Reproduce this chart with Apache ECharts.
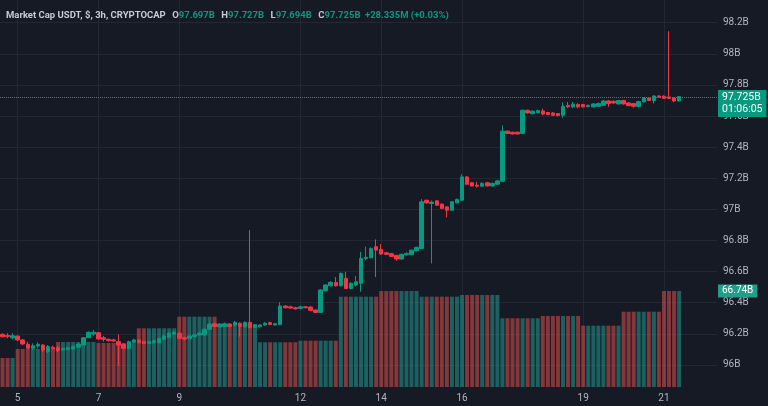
<!DOCTYPE html>
<html>
<head>
<meta charset="utf-8">
<script src="https://cdn.jsdelivr.net/npm/echarts@6/dist/echarts.min.js"></script>
<style>
html, body { margin: 0; padding: 0; background: #161a25; }
#chart { width: 768px; height: 406px; }
</style>
</head>
<body>
<div id="chart"></div>
<script>
// 3h candles, [open, close, low, high] in billions, first bar = day 4 15:00
const candles = [
  [96.197,96.182,96.177,96.204],[96.189,96.184,96.172,96.204],[96.175,96.188,96.165,96.204],
  [96.186,96.161,96.154,96.189],[96.161,96.135,96.128,96.167],[96.133,96.107,96.103,96.150],
  [96.107,96.124,96.096,96.139],[96.122,96.133,96.107,96.146],[96.128,96.096,96.085,96.135],
  [96.085,96.118,96.077,96.128],[96.114,96.105,96.099,96.124],[96.111,96.092,96.083,96.122],
  [96.098,96.105,96.092,96.113],[96.101,96.109,96.094,96.118],[96.103,96.118,96.099,96.124],
  [96.114,96.133,96.109,96.139],[96.128,96.175,96.124,96.180],[96.175,96.210,96.173,96.216],
  [96.199,96.210,96.188,96.225],[96.207,96.167,96.163,96.212],[96.175,96.165,96.150,96.186],
  [96.165,96.156,96.150,96.169],[96.161,96.154,96.148,96.169],[96.150,96.128,95.994,96.197],
  [96.133,96.107,96.101,96.139],[96.107,96.150,96.101,96.156],[96.146,96.161,96.141,96.169],
  [96.161,96.143,96.139,96.167],[96.150,96.139,96.133,96.156],[96.139,96.150,96.133,96.156],
  [96.143,96.156,96.139,96.161],[96.143,96.171,96.139,96.177],[96.165,96.186,96.161,96.193],
  [96.178,96.204,96.173,96.210],[96.199,96.210,96.193,96.218],[96.204,96.171,96.167,96.212],
  [96.175,96.167,96.161,96.182],[96.171,96.186,96.167,96.193],[96.182,96.193,96.178,96.199],
  [96.193,96.204,96.188,96.210],[96.193,96.229,96.188,96.235],[96.229,96.261,96.225,96.271],
  [96.265,96.248,96.243,96.271],[96.246,96.263,96.241,96.269],[96.248,96.265,96.243,96.273],
  [96.263,96.248,96.243,96.269],[96.257,96.274,96.250,96.283],[96.268,96.248,96.182,96.274],
  [96.246,96.274,96.241,96.280],[96.274,96.240,96.235,96.867],[96.242,96.257,96.238,96.263],
  [96.246,96.257,96.240,96.263],[96.257,96.268,96.252,96.276],[96.272,96.261,96.255,96.278],
  [96.257,96.265,96.252,96.271],[96.261,96.379,96.257,96.403],[96.379,96.368,96.364,96.385],
  [96.374,96.366,96.361,96.381],[96.368,96.361,96.355,96.374],[96.364,96.374,96.357,96.381],
  [96.374,96.368,96.364,96.379],[96.372,96.351,96.348,96.379],[96.353,96.338,96.334,96.357],
  [96.338,96.482,96.334,96.488],[96.477,96.514,96.473,96.520],[96.509,96.531,96.505,96.539],
  [96.531,96.509,96.503,96.565],[96.509,96.589,96.505,96.594],[96.557,96.492,96.488,96.599],
  [96.492,96.525,96.486,96.531],[96.514,96.535,96.503,96.571],[96.525,96.685,96.471,96.727],
  [96.685,96.692,96.674,96.760],[96.689,96.749,96.685,96.756],[96.760,96.738,96.565,96.807],
  [96.743,96.713,96.708,96.777],[96.721,96.711,96.706,96.727],[96.715,96.698,96.694,96.721],
  [96.704,96.681,96.670,96.708],[96.681,96.711,96.677,96.715],[96.708,96.717,96.704,96.724],
  [96.711,96.738,96.706,96.743],[96.734,96.756,96.730,96.760],[96.749,97.049,96.745,97.066],
  [97.059,97.042,97.036,97.062],[97.038,97.047,96.653,97.057],[97.055,97.027,97.023,97.059],
  [97.034,97.006,97.002,97.038],[97.016,96.995,96.948,97.021],[96.995,97.049,96.991,97.053],
  [97.042,97.064,97.038,97.070],[97.059,97.209,97.055,97.226],[97.209,97.162,97.158,97.214],
  [97.171,97.151,97.147,97.177],[97.156,97.149,97.141,97.177],[97.149,97.167,97.145,97.175],
  [97.171,97.151,97.147,97.177],[97.151,97.167,97.145,97.173],[97.162,97.183,97.158,97.190],
  [97.181,97.503,97.177,97.539],[97.503,97.488,97.484,97.507],[97.496,97.485,97.481,97.500],
  [97.496,97.485,97.481,97.500],[97.488,97.637,97.484,97.641],[97.637,97.620,97.615,97.641],
  [97.615,97.631,97.611,97.637],[97.622,97.635,97.618,97.641],[97.633,97.613,97.605,97.648],
  [97.623,97.610,97.605,97.626],[97.620,97.605,97.600,97.626],[97.616,97.603,97.599,97.620],
  [97.605,97.663,97.588,97.687],[97.669,97.659,97.652,97.691],[97.659,97.676,97.650,97.691],
  [97.674,97.659,97.650,97.683],[97.674,97.659,97.654,97.678],[97.661,97.669,97.656,97.674],
  [97.659,97.678,97.654,97.683],[97.663,97.680,97.659,97.687],[97.669,97.697,97.665,97.702],
  [97.697,97.680,97.659,97.702],[97.695,97.684,97.680,97.700],[97.678,97.700,97.674,97.704],
  [97.700,97.678,97.674,97.704],[97.684,97.667,97.663,97.689],[97.680,97.663,97.654,97.684],
  [97.661,97.693,97.656,97.697],[97.691,97.716,97.687,97.721],[97.716,97.700,97.697,97.721],
  [97.700,97.729,97.680,97.734],[97.729,97.721,97.716,97.734],[97.727,97.714,97.710,97.734],
  [97.723,97.714,97.710,98.145],[97.716,97.697,97.689,97.721],[97.697,97.725,97.694,97.727]
]

// daily volume (B), days 4..21, shown on every 3h bar of that day
const volDays = [4,5,6,7,8,9,10,11,12,13,14,15,16,17,18,19,20,21]
const dailyVolume = [20.16,26.42,31.28,30.59,40.81,48.87,43.80,31.08,32.19,62.78,66.74,62.78,63.96,47.76,49.36,42.62,52.35,66.74]

const dayTicks = [5, 7, 9, 12, 14, 16, 19, 21]
const headerText = 'Market Cap USDT, $, 3h, CRYPTOCAP'
const changeText = '+28.335M (+0.03%)'
const countdown = '01:06:05'

const UP = '#089981'
const DOWN = '#f23645'
const GRID = '#232734'
const TXT = '#b2b5be'

// categories: day/hour for each 3h slot, plus empty slots on the right
const startDay = 4, startHour = 15, slots = 142
const categories = []
for (let i = 0; i < slots; i++) {
  const h = startHour + i * 3
  categories.push((startDay + Math.floor(h / 24)) + ' ' + String(h % 24).padStart(2, '0'))
}
const isDayTick = (i) => {
  const [d, h] = categories[i].split(' ')
  return h === '00' && dayTicks.includes(+d)
}

const volume = candles.map((c, i) => {
  const day = +categories[i].split(' ')[0]
  const up = c[1] >= c[0]
  return {
    value: dailyVolume[volDays.indexOf(day)],
    itemStyle: { color: up ? 'rgba(38,166,154,0.5)' : 'rgba(239,83,80,0.5)' }
  }
})
const last = candles[candles.length - 1]
const lastVol = volume[volume.length - 1].value

const chart = echarts.init(document.getElementById('chart'))
chart.setOption({
  backgroundColor: '#161a25',
  animation: false,
  textStyle: { fontFamily: 'Roboto, sans-serif' },
  title: {
    left: 6,
    top: 7,
    padding: 0,
    text: `{n|${headerText}} {k|O}{v|${last[0].toFixed(3)}B} {k|H}{v|${last[3].toFixed(3)}B} {k|L}{v|${last[2].toFixed(3)}B} {k|C}{v|${last[1].toFixed(3)}B} {v|${changeText}}`,
    textStyle: {
      rich: {
        n: { color: '#c9cbd2', fontSize: 9.5 },
        k: { color: '#c9cbd2', fontSize: 9.5, padding: [0, 0, 0, 2] },
        v: { color: UP, fontSize: 9.5 }
      }
    }
  },
  grid: [
    { left: 0, right: 51, top: 0, bottom: 9.9 },
    { left: 0, right: 51, top: 0, bottom: 19 }
  ],
  xAxis: [
    {
      type: 'category', gridIndex: 0, data: categories,
      axisLine: { show: false }, axisTick: { show: false },
      axisLabel: { show: false }, splitLine: { show: false }
    },
    {
      type: 'category', gridIndex: 1, data: categories,
      axisLine: { show: false }, axisTick: { show: false },
      axisLabel: {
        interval: (i) => isDayTick(i),
        formatter: (v) => v.split(' ')[0],
        color: TXT, fontSize: 10, margin: 6
      },
      splitLine: {
        show: true, interval: (i) => isDayTick(i), alignWithLabel: true,
        lineStyle: { color: GRID, width: 1 }
      }
    }
  ],
  yAxis: [
    {
      type: 'value', gridIndex: 0, position: 'right',
      min: 95.8, max: 98.3459, interval: 0.2,
      axisLine: { show: false }, axisTick: { show: false },
      axisLabel: {
        color: TXT, fontSize: 10, margin: 6,
        formatter: (v) => (v < 95.95 || v > 98.25) ? '' : (+v.toFixed(1)) + 'B'
      },
      splitLine: { lineStyle: { color: GRID, width: 1 }, showMinLine: false, showMaxLine: false }
    },
    {
      type: 'value', gridIndex: 1, min: 0, max: 269, show: false,
      splitLine: { show: false }
    }
  ],
  series: [
    {
      type: 'bar', name: 'Volume', xAxisIndex: 1, yAxisIndex: 1,
      data: volume, barWidth: 4, z: 1,
      markLine: {
        silent: true, symbol: 'none',
        lineStyle: { color: 'rgba(0,0,0,0)', width: 0 },
        label: {
          show: true, position: 'end', distance: 1,
          formatter: () => lastVol.toFixed(2) + 'B',
          color: '#ffffff', fontSize: 10, backgroundColor: '#1f9e89',
          padding: [2, 4, 1, 4]
        },
        data: [{ yAxis: lastVol }]
      }
    },
    {
      type: 'candlestick', name: 'Market Cap', xAxisIndex: 0, yAxisIndex: 0,
      data: candles, barWidth: 4, z: 3,
      itemStyle: { color: UP, color0: DOWN, borderColor: UP, borderColor0: DOWN, borderWidth: 1 },
      markLine: {
        silent: true, symbol: 'none',
        lineStyle: { type: 'dotted', color: UP, width: 1 },
        label: {
          position: 'end', distance: 1, offset: [0, 6],
          formatter: () => last[1].toFixed(3) + 'B\n' + countdown,
          color: '#ffffff', fontSize: 10.5, lineHeight: 12,
          backgroundColor: UP, padding: [2, 4, 1, 4]
        },
        data: [{ yAxis: last[1] }]
      }
    }
  ]
})
</script>
</body>
</html>
